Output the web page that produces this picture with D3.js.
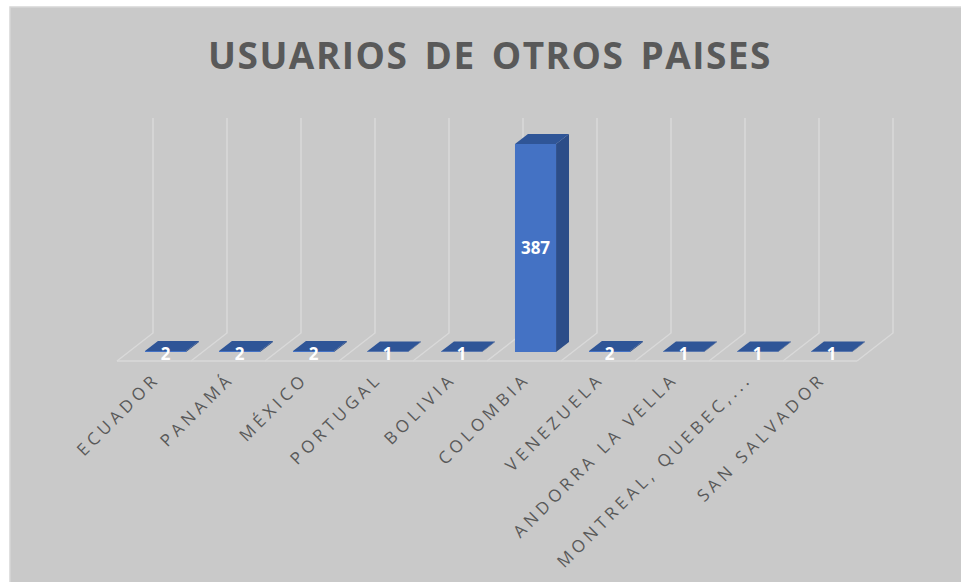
<!DOCTYPE html>
<meta charset="utf-8">
<style>
  body { margin: 0; background: #fff; }
  svg { display: block; }
</style>
<body>
  <div id="box1"></div>
</body>
<script src="https://d3js.org/d3.v7.min.js"></script>
<script>

// data
var paises = ["ECUADOR", "PANAMÁ", "MÉXICO", "PORTUGAL", "BOLIVIA", "COLOMBIA",
              "VENEZUELA", "ANDORRA LA VELLA", "MONTREAL, QUEBEC,...", "SAN SALVADOR"];
var usuarios = [2, 2, 2, 1, 1, 387, 2, 1, 1, 1];
var titulo = "USUARIOS DE OTROS PAISES";

var width = 961, height = 582;

// back wall of the 3d box, and the depth vector going to the front
var wall = {left: 153, right: 893, top: 118, bottom: 333};
var depth = {dx: -36, dy: 28};
var f0 = 0.32, f1 = 0.68;   // bar sits between these depth fractions

var data = paises.map((p, i) => ({pais: p, valor: usuarios[i]}));

var xScale = d3.scaleBand(paises, [wall.left, wall.right]).padding(0);
var yScale = d3.scaleLinear([0, 400], [wall.bottom, wall.top]);
var barW = xScale.bandwidth() * 0.555;

// point on back wall pushed forward by depth fraction f
function pt(x, y, f) { return [x + depth.dx * f, y + depth.dy * f]; }
function poly(pts) { return "M" + pts.map(p => p.join(",")).join("L") + "Z"; }

var svg = d3.select("#box1").append("svg")
    .attr("width", width)
    .attr("height", height);

// chart panel
svg.append("rect")
    .attr("x", 10).attr("y", 7)
    .attr("width", width - 9).attr("height", height - 6)
    .attr("fill", "#c9c9c9")
    .attr("stroke", "#d6d6d6")
    .attr("stroke-width", 1.5);

// title
svg.append("text")
    .attr("x", 490).attr("y", 69)
    .attr("text-anchor", "middle")
    .style("font-family", "'Open Sans', sans-serif")
    .style("font-weight", "bold")
    .style("font-size", "37px")
    .style("letter-spacing", "1.5px")
    .style("word-spacing", "5px")
    .style("fill", "#595959")
    .text(titulo);

// wall + floor lines
var edges = xScale.domain().map(d => xScale(d)).concat([wall.right]);
var grid = svg.append("g")
    .attr("stroke", "#d9d9d9")
    .attr("stroke-width", 1.5)
    .attr("fill", "none");

grid.selectAll("path.wall")
  .data(edges)
  .join("path")
    .attr("class", "wall")
    .attr("d", x => "M" + x + "," + wall.top + "L" + x + "," + wall.bottom +
                    "L" + pt(x, wall.bottom, 1).join(","));

grid.append("path")
    .attr("d", "M" + pt(wall.left, wall.bottom, 1).join(",") +
               "L" + pt(wall.right, wall.bottom, 1).join(","));

// bars
var bars = svg.append("g").selectAll("g")
  .data(data)
  .join("g");

function corners(d) {
  var cx = xScale(d.pais) + xScale.bandwidth() / 2;
  return {x0: cx - barW / 2, x1: cx + barW / 2, yb: yScale(0), yt: yScale(d.valor)};
}

// side face
bars.append("path")
    .attr("fill", "#2c4d88")
    .attr("d", d => {
      var c = corners(d);
      return poly([pt(c.x1, c.yb, f1), pt(c.x1, c.yb, f0), pt(c.x1, c.yt, f0), pt(c.x1, c.yt, f1)]);
    });

// front face
bars.append("path")
    .attr("fill", "#4472c4")
    .attr("d", d => {
      var c = corners(d);
      return poly([pt(c.x0, c.yb, f1), pt(c.x1, c.yb, f1), pt(c.x1, c.yt, f1), pt(c.x0, c.yt, f1)]);
    });

// top face
bars.append("path")
    .attr("fill", "#2f5597")
    .attr("d", d => {
      var c = corners(d);
      return poly([pt(c.x0, c.yt, f1), pt(c.x1, c.yt, f1), pt(c.x1, c.yt, f0), pt(c.x0, c.yt, f0)]);
    });

// value labels
bars.append("text")
    .attr("x", d => pt(xScale(d.pais) + xScale.bandwidth() / 2, 0, f1)[0])
    .attr("y", d => {
      var c = corners(d);
      var yb = pt(0, c.yb, f1)[1], yt = pt(0, c.yt, f1)[1];
      return d.valor > 50 ? (yb + yt) / 2 + 6 : yb + 8;
    })
    .attr("text-anchor", "middle")
    .style("font-family", "'Open Sans', sans-serif")
    .style("font-weight", "bold")
    .style("font-size", "17px")
    .style("fill", "#fff")
    .text(d => d.valor);

// category labels, rotated
svg.append("g").selectAll("text")
  .data(data)
  .join("text")
    .attr("transform", d => {
      var p = pt(xScale(d.pais) + xScale.bandwidth() / 2, wall.bottom, 1);
      return "translate(" + (p[0] + 7) + "," + (p[1] + 19) + ") rotate(-45)";
    })
    .attr("text-anchor", "end")
    .style("font-family", "'Open Sans', sans-serif")
    .style("font-size", "17px")
    .style("letter-spacing", "4.2px")
    .style("fill", "#595959")
    .text(d => d.pais);

</script>
